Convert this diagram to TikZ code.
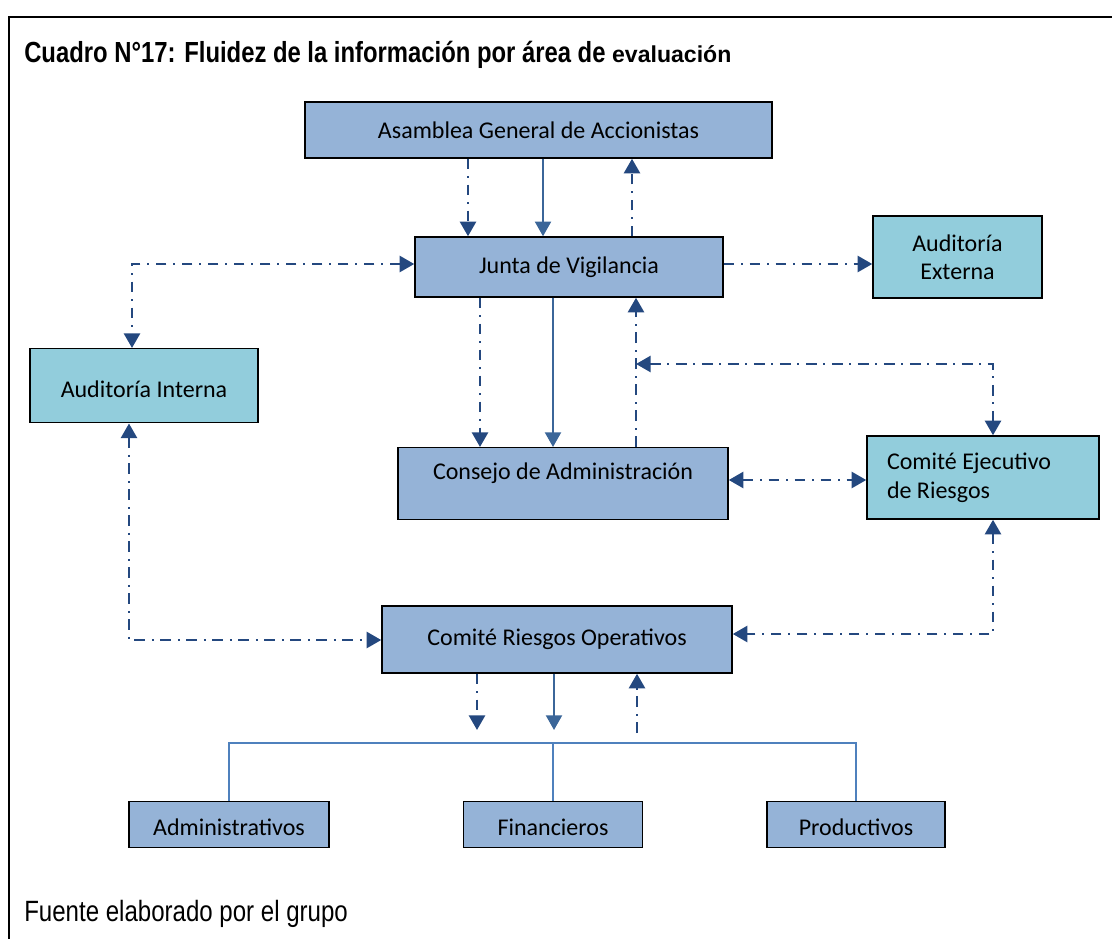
\documentclass[tikz,border=0pt]{standalone}
\usepackage{fontspec}
\setmainfont{Carlito}
\newfontfamily\narrowfont[FakeStretch=0.82]{Liberation Sans}
\newfontfamily\widefont{Liberation Sans}
\usetikzlibrary{arrows.meta}
\definecolor{boxblue}{HTML}{95B3D7}
\definecolor{boxteal}{HTML}{92CDDC}
\definecolor{arrdark}{HTML}{24487F}
\definecolor{arrsolid}{HTML}{3B6699}
\definecolor{treeline}{HTML}{4F81BD}
\tikzset{
  boxb/.style={draw=black, line width=1.1pt, fill=boxblue, inner sep=0pt, align=center,
    font=\fontsize{18}{21.75}\selectfont},
  boxt/.style={boxb, fill=boxteal},
  dd/.style={draw=arrdark, line width=2.1pt, dash pattern=on 8pt off 5pt on 1.5pt off 5pt},
  sol/.style={draw=arrsolid, line width=1.6pt},
  tip/.style={-{Triangle[length=11pt,width=12pt]}},
  tips/.style={{Triangle[length=11pt,width=12pt]}-{Triangle[length=11pt,width=12pt]}},
  treel/.style={draw=treeline, line width=1.1pt},
}
\begin{document}
\begin{tikzpicture}[x=0.75pt,y=-0.75pt]
\useasboundingbox (0,0) rectangle (1112,938);
% frame
\draw[line width=1.5pt] (9,945) -- (9,17) -- (1120,17);
% title and footer
\node[anchor=base west, inner sep=0pt, font=\narrowfont\bfseries\fontsize{21.8}{24}\selectfont] (title) at (24,63)
  {Cuadro N°17: Fluidez de la información por área de {\widefont\bfseries\fontsize{17.3}{20}\selectfont evaluación}};
\node[anchor=base west, inner sep=0pt, font=\narrowfont\fontsize{22}{24}\selectfont] (foot) at (24,921)
  {Fuente elaborado por el grupo};
% boxes
\node[boxb, minimum width=467*0.75pt, minimum height=56*0.75pt] (asam) at (538.5,130) {Asamblea General de Accionistas};
\node[boxb, minimum width=308*0.75pt, minimum height=60*0.75pt] (junta) at (569,267) {Junta de Vigilancia};
\node[boxt, minimum width=169*0.75pt, minimum height=82*0.75pt, font=\fontsize{18}{21}\selectfont] (ext) at (957.5,257) {Auditoría\\Externa};
\node[boxt, minimum width=228*0.75pt, text height=36.75pt, text depth=18.75pt, anchor=north] (int) at (144,348) {Auditoría Interna};
\node[boxb, minimum width=330*0.75pt, text height=24pt, text depth=30pt, anchor=north] (cons) at (563,447) {Consejo de Administración};
\node[boxt, minimum width=232*0.75pt, minimum height=83*0.75pt, inner xsep=15pt, text width=144pt, align=flush left] (ejec) at (983,477.5) {Comité Ejecutivo\\de Riesgos};
\node[boxb, minimum width=350*0.75pt, minimum height=67*0.75pt] (oper) at (557,639.5) {Comité Riesgos Operativos};
\node[boxb, minimum width=200*0.75pt, text height=25.5pt, text depth=9pt, anchor=north] (adm) at (229,801) {Administrativos};
\node[boxb, minimum width=179*0.75pt, text height=25.5pt, text depth=9pt, anchor=north] (fin) at (553,801) {Financieros};
\node[boxb, minimum width=178*0.75pt, text height=25.5pt, text depth=9pt, anchor=north] (prod) at (856,801) {Productivos};
% Asamblea - Junta
\draw[dd,tip] (asam.south -| 468,0) -- (junta.north -| 468,0);
\draw[sol,tip] (asam.south -| 543,0) -- (junta.north -| 543,0);
\draw[dd,tip] (junta.north -| 632,0) -- (asam.south -| 632,0);
% Junta - Externa / Interna
\draw[dd,tip] (junta.east |- 0,264) -- (ext.west |- 0,264);
\draw[dd,tips] (junta.west |- 0,264) -| (int.north -| 132,0);
% Junta - Consejo
\draw[dd,tip] (junta.south -| 480,0) -- (cons.north -| 480,0);
\draw[sol,tip] (junta.south -| 553,0) -- (cons.north -| 553,0);
\draw[dd,tip] (cons.north -| 636,0) -- (junta.south -| 636,0);
% Ejecutivo links
\coordinate (j1) at (636,364);
\draw[dd,tips] (j1) -| (ejec.north -| 993,0);
\draw[dd,tips] (cons.east |- 0,480) -- (ejec.west |- 0,480);
\draw[dd,tips] (int.south -| 129,0) |- (oper.west |- 0,640);
\draw[dd,tips] (ejec.south -| 993,0) |- (oper.east |- 0,634);
% Operativos down
\coordinate (o1) at (477,730);
\coordinate (o2) at (554,730);
\coordinate (o3) at (637,733);
\draw[dd,tip] (oper.south -| o1) -- (o1);
\draw[sol,tip] (oper.south -| o2) -- (o2);
\draw[dd,tip] (o3) -- (oper.south -| o3);
% tree
\coordinate (t) at (553,743);
\draw[treel] (adm.north) -- (adm.north |- t) -- (prod.north |- t) -- (prod.north);
\draw[treel] (t) -- (fin.north -| t);
\end{tikzpicture}
\end{document}
